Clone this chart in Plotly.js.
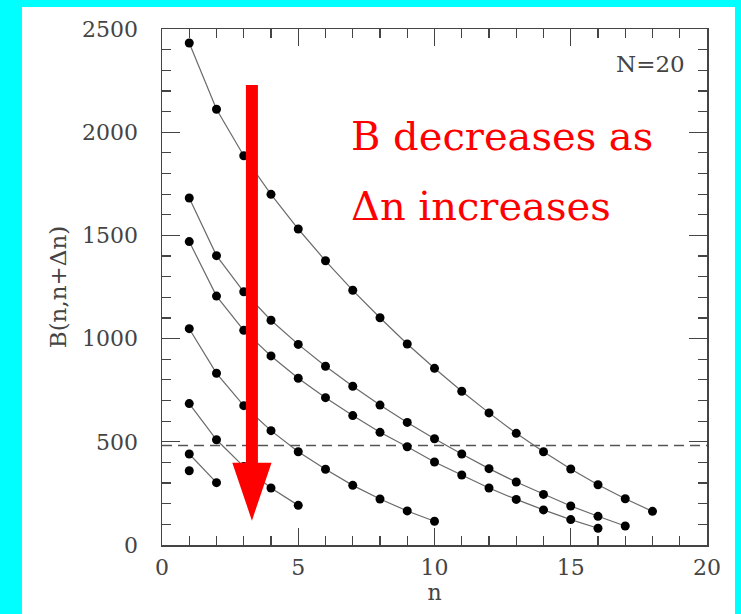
<!DOCTYPE html>
<html>
<head>
<meta charset="utf-8">
<script src="https://cdn.plot.ly/plotly-3.0.1.min.js"></script>
<style>html,body{margin:0;padding:0;background:#00ffff;}#chart{width:741px;height:614px;}</style>
</head>
<body>
<div id="chart"></div>
<script>
// ---- data ----
const n1 = [1,2,3,4,5,6,7,8,9,10,11,12,13,14,15,16,17,18];
const b1 = [2432,2111,1886,1699,1531,1377,1234,1101,974,856,745,640,541,452,368,292,224,163];
const n2 = [1,2,3,4,5,6,7,8,9,10,11,12,13,14,15,16,17];
const b2 = [1681,1402,1227,1089,972,866,769,678,594,515,441,370,305,245,189,139,92];
const n3 = [1,2,3,4,5,6,7,8,9,10,11,12,13,14,15,16];
const b3 = [1470,1206,1040,916,808,714,627,546,476,402,339,276,221,170,123,81];
const n4 = [1,2,3,4,5,6,7,8,9,10];
const b4 = [1048,832,675,554,452,367,289,223,165,115];
const n5 = [1,2,3,4,5];
const b5 = [685,510,380,276,192];
const n6 = [1,2];
const b6 = [441,302];
const n7 = [1];
const b7 = [360];
const threshold = 482;
const xTicks = [0,5,10,15,20];
const yTicks = [0,500,1000,1500,2000,2500];
const labelText = "N=20";
const noteLine1 = "B decreases as";
const noteLine2 = "\u0394n increases";
// arrow geometry (data units)
const arrowX = 3.30, arrowTop = 2229, arrowNeck = 399, arrowTip = 118;
const shaftHalf = 0.22, headHalf = 0.72;

const serif = "DejaVu Serif, serif";
const series = [[n1,b1],[n2,b2],[n3,b3],[n4,b4],[n5,b5],[n6,b6],[n7,b7]];
const traces = series.map(([x,y]) => ({
  x: x, y: y, type: 'scatter', mode: 'lines+markers',
  line: {color: '#6a6a6a', width: 1.2},
  marker: {color: '#000', size: 9},
  hoverinfo: 'skip', showlegend: false
}));

const arrowPath = `M ${arrowX-shaftHalf},${arrowTop} L ${arrowX+shaftHalf},${arrowTop} L ${arrowX+shaftHalf},${arrowNeck} L ${arrowX+headHalf},${arrowNeck} L ${arrowX},${arrowTip} L ${arrowX-headHalf},${arrowNeck} L ${arrowX-shaftHalf},${arrowNeck} Z`;

const axCommon = {
  showgrid: false, zeroline: false, showline: true, linecolor: '#444', linewidth: 1.5,
  mirror: 'allticks', ticks: 'inside', tickcolor: '#444', tickwidth: 1.2,
  tickfont: {family: serif, size: 22, color: '#444'}
};

const layout = {
  width: 741, height: 614,
  paper_bgcolor: '#00ffff', plot_bgcolor: '#ffffff',
  margin: {l: 162, r: 34, t: 29, b: 69},
  xaxis: Object.assign({}, axCommon, {
    range: [0, 20], tickmode: 'array', tickvals: xTicks, ticktext: xTicks.map(String),
    ticklen: 17, ticklabelstandoff: 2,
    minor: {dtick: 1, tick0: 0, ticklen: 9, ticks: 'inside', tickcolor: '#444', tickwidth: 1.2},
    title: {text: 'n', font: {family: serif, size: 22, color: '#444'}, standoff: 0}
  }),
  yaxis: Object.assign({}, axCommon, {
    range: [0, 2500], tickmode: 'array', tickvals: yTicks, ticktext: yTicks.map(String),
    ticklen: 18, ticklabelstandoff: 18,
    minor: {dtick: 100, tick0: 0, ticklen: 9, ticks: 'inside', tickcolor: '#444', tickwidth: 1.2},
    title: {text: 'B(n,n+\u0394n)', font: {family: serif, size: 23, color: '#444'}, standoff: 9}
  }),
  shapes: [
    {type: 'rect', xref: 'paper', yref: 'paper', x0: -0.2569, x1: 1.0514, y0: -0.14, y1: 1.0426,
     fillcolor: '#ffffff', line: {width: 0}, layer: 'below'},
    {type: 'line', xref: 'paper', yref: 'y', x0: 0, x1: 1, y0: threshold, y1: threshold,
     line: {color: '#555', width: 1.5, dash: '10px,6px'}, layer: 'below'},
    {type: 'path', xref: 'x', yref: 'y', path: arrowPath, fillcolor: '#ff0000', line: {width: 0}, layer: 'above'}
  ],
  annotations: [
    {xref: 'paper', yref: 'paper', x: 0.9628, y: 0.932, xanchor: 'right', yanchor: 'middle',
     text: labelText, showarrow: false, font: {family: serif, size: 23, color: '#444'}},
    {xref: 'paper', yref: 'paper', x: 0.3431, y: 0.793, xanchor: 'left', yanchor: 'middle',
     text: noteLine1, showarrow: false, font: {family: serif, size: 40, color: '#ff0000'}},
    {xref: 'paper', yref: 'paper', x: 0.3431, y: 0.6575, xanchor: 'left', yanchor: 'middle',
     text: noteLine2, showarrow: false, font: {family: serif, size: 40, color: '#ff0000'}}
  ]
};

Plotly.newPlot('chart', traces, layout, {displayModeBar: false, staticPlot: true});
</script>
</body>
</html>
